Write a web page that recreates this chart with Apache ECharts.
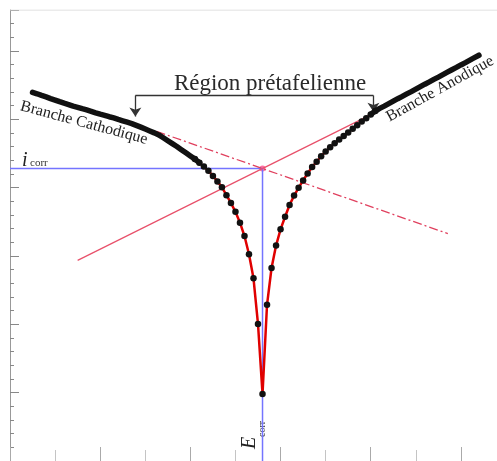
<!DOCTYPE html>
<html>
<head>
<meta charset="utf-8">
<script src="https://cdn.jsdelivr.net/npm/echarts@6/dist/echarts.min.js"></script>
<style>
html,body{margin:0;padding:0;background:#fff;}
#c{width:497px;height:461px;}
</style>
</head>
<body>
<div id="c"></div>
<script>
// Potential (mV, arbitrary origin) of each measured point
const potential = [50,60,70,80,90,100,110,120,130,140,150,160,170,180,190,200,210,220,230,240,
250,260,270,280,290,300,310,320,330,340,350,360,370,380,390,400,410,420,430,440,
450,460,470,480,490,500,510,520,530,540,550,560,570,580,590,600,610,620,630,640,
650,660,670,680,690,700,710,720,730,740,750,760,770,780,790,800,810,820,830,840,
850,860,870,880,890,900,910,920,930,940,950,960,970,980,990,1000,1010,1020,1030,1040];
// log|i| (arbitrary units) of each point
const logCurrent = [26.98,26.87,26.75,26.64,26.52,26.41,26.29,26.18,26.08,25.97,
25.88,25.78,25.69,25.59,25.48,25.38,25.29,25.19,25.10,24.99,
24.89,24.79,24.69,24.56,24.43,24.29,24.15,24.01,23.86,23.65,
23.43,23.22,23.01,22.78,22.55,22.32,22.09,21.83,21.54,21.23,
20.86,20.46,20.03,19.45,18.88,18.23,17.44,16.46,15.13,13.37,
10.02,4.90,11.43,14.12,15.76,16.95,17.87,18.73,19.42,19.99,
20.53,21.04,21.51,21.90,22.30,22.64,22.95,23.25,23.53,23.78,
24.04,24.32,24.57,24.84,25.08,25.36,25.61,25.80,25.97,26.15,
26.33,26.51,26.68,26.86,27.03,27.21,27.39,27.57,27.74,27.92,
28.09,28.27,28.45,28.63,28.80,28.98,29.15,29.33,29.51,29.69];
const Ecorr = 560;
const logIcorr = 21.40;
const anodicTafel = [[150,14.68],[815,25.58]];
const cathodicTafel = [[325,24.12],[971,16.64]];
const frameTop = 33;
// bracket "Région prétafelienne"
const bracketBar = [[278,26.75],[806,26.75]];
const bracketLegs = [[[278,26.75],[278,25.20]], [[806,26.75],[806,25.56]]];
// indices where the curve is drawn as a solid thick black line (outer Tafel branches)
const solidLeftEnd = 37;
const solidRightStart = 75;

const curve = potential.map((e,i)=>[e, logCurrent[i]]);
const leftSolid = curve.slice(0, solidLeftEnd + 1);
const rightSolid = curve.slice(solidRightStart);

const chart = echarts.init(document.getElementById('c'), null, {renderer:'canvas'});
const serif = '"Liberation Serif","DejaVu Serif",serif';
chart.setOption({
  animation:false,
  backgroundColor:'#fff',
  grid:{left:10, top:10, bottom:-7, right:-4.5, containLabel:false},
  xAxis:[
    {type:'value', min:0, max:1080, interval:100, position:'bottom',
     axisLine:{show:false,onZero:false}, axisLabel:{show:false}, splitLine:{show:false},
     axisTick:{show:true, inside:true, length:11, lineStyle:{color:'#c4c4c4'}}},
    {type:'value', min:0, max:1080, interval:200, position:'bottom',
     axisLine:{show:false,onZero:false}, axisLabel:{show:false}, splitLine:{show:false},
     axisTick:{show:true, inside:true, length:14, lineStyle:{color:'#aaa'}}}
  ],
  yAxis:[
    {type:'value', min:0, max:33, interval:1, position:'left',
     axisLine:{show:true,onZero:false,lineStyle:{color:'#999',width:1}}, axisLabel:{show:false}, splitLine:{show:false},
     axisTick:{show:true, inside:true, length:4, lineStyle:{color:'#888'}}},
    {type:'value', min:0, max:33, interval:5, position:'left',
     axisLine:{show:false,onZero:false}, axisLabel:{show:false}, splitLine:{show:false},
     axisTick:{show:true, inside:true, length:9, lineStyle:{color:'#888'}}}
  ],
  series:[
    {type:'line', data:[[0,frameTop],[1080,frameTop]], symbol:'none', silent:true,
     lineStyle:{color:'#d8d8d8', width:1}},
    {type:'line', data:[[0,logIcorr],[Ecorr,logIcorr],[Ecorr,0]], symbol:'none',
     lineStyle:{color:'#7474ff', width:1.5}},
    {type:'line', data:anodicTafel, symbol:'none',
     lineStyle:{color:'#e8506a', width:1.2}},
    {type:'line', data:cathodicTafel, symbol:'none',
     lineStyle:{color:'#e0405e', width:1.3, type:[9,3,2,3]}},
    {type:'scatter', data:[[Ecorr,logIcorr]], symbolSize:6, itemStyle:{color:'#ff4d8a'}},
    {type:'line', data:curve, symbol:'circle', showAllSymbol:true,
     symbolSize:(v,p)=> (p.dataIndex > solidLeftEnd - 2 && p.dataIndex < solidRightStart + 2) ? 6.5 : 0,
     lineStyle:{color:'#e00000', width:2.5}, itemStyle:{color:'#111', borderWidth:0}},
    {type:'line', data:leftSolid, symbol:'none', lineStyle:{color:'#111', width:5.5, cap:'round', join:'round'}},
    {type:'line', data:rightSolid, symbol:'none', lineStyle:{color:'#111', width:5.5, cap:'round', join:'round'}},
    {type:'lines', coordinateSystem:'cartesian2d', symbol:'none',
     lineStyle:{color:'#333', width:1.3, opacity:1},
     data:[{coords:bracketBar}]},
    {type:'lines', coordinateSystem:'cartesian2d', symbol:['none','arrow'], symbolSize:9,
     lineStyle:{color:'#333', width:1.3, opacity:1},
     data:bracketLegs.map(c=>({coords:c}))}
  ],
  graphic:[
    {type:'text', x:270, y:84, style:{text:'Région prétafelienne', font:'23px '+serif, fill:'#2a2a2a',
      align:'center', verticalAlign:'middle', textAlign:'center', textVerticalAlign:'middle'}},
    {type:'text', x:84, y:123, rotation:-0.262, style:{text:'Branche Cathodique', font:'16px '+serif, fill:'#222',
      align:'center', verticalAlign:'middle', textAlign:'center', textVerticalAlign:'middle'}},
    {type:'text', x:440, y:89, rotation:0.506, style:{text:'Branche Anodique', font:'16px '+serif, fill:'#222',
      align:'center', verticalAlign:'middle', textAlign:'center', textVerticalAlign:'middle'}},
    {type:'text', x:22, y:160.5, style:{text:'i', font:'italic 20px '+serif, fill:'#222',
      align:'left', verticalAlign:'middle', textAlign:'left', textVerticalAlign:'middle'}},
    {type:'text', x:30, y:163.5, style:{text:'corr', font:'11px '+serif, fill:'#333',
      align:'left', verticalAlign:'middle', textAlign:'left', textVerticalAlign:'middle'}},
    {type:'text', x:250, y:443, rotation:Math.PI/2, style:{text:'E', font:'italic 20px '+serif, fill:'#222',
      align:'center', verticalAlign:'middle', textAlign:'center', textVerticalAlign:'middle'}},
    {type:'text', x:262, y:429, rotation:Math.PI/2, style:{text:'corr', font:'10px '+serif, fill:'#333',
      align:'center', verticalAlign:'middle', textAlign:'center', textVerticalAlign:'middle'}}
  ]
});
</script>
</body>
</html>
